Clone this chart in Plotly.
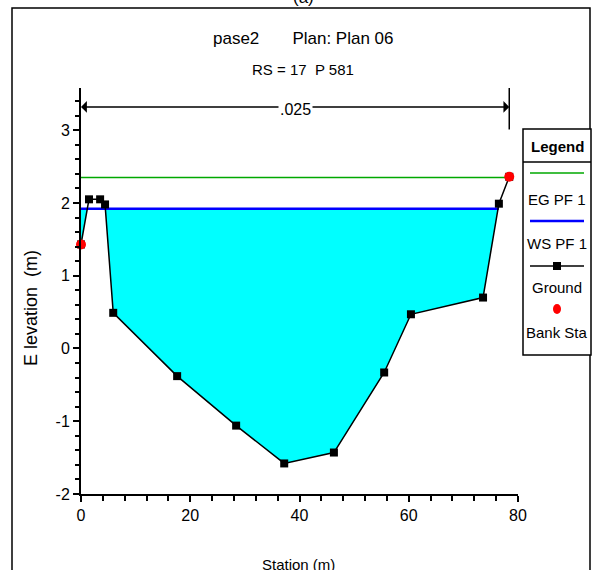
import plotly.graph_objects as go

# ---- data ----
ground_x = [0.0, 1.46, 3.5, 4.4, 5.9, 17.6, 28.4, 37.2, 46.3, 55.5, 60.4, 73.6, 76.5, 78.4]
ground_y = [1.43, 2.05, 2.05, 1.98, 0.49, -0.38, -1.06, -1.58, -1.43, -0.33, 0.47, 0.70, 1.99, 2.36]
bank_x = [0.0, 78.4]
bank_y = [1.43, 2.36]
ws_level = 1.92
eg_level = 2.35
ws_x = [0.0, 76.5]
eg_x = [0.0, 78.4]
n_value = ".025"
x_ticks = [0, 20, 40, 60, 80]
y_ticks = [-2, -1, 0, 1, 2, 3]

FONT = "Liberation Sans, Arial"
EG_COLOR = "#00A800"

# ---- water polygons (ground below WS) ----
def water_polys(xs, ys, lvl):
    polys, cur = [], []
    for i in range(len(xs)):
        x, y = xs[i], ys[i]
        if i > 0:
            x0, y0 = xs[i-1], ys[i-1]
            if (y0 < lvl) != (y < lvl):
                xi = x0 + (lvl - y0) * (x - x0) / (y - y0)
                cur.append((xi, lvl))
                if y >= lvl:
                    polys.append(cur); cur = []
        if y < lvl:
            if not cur:
                cur.append((x, lvl))
            cur.append((x, y))
    if cur:
        cur.append((xs[-1], lvl)); polys.append(cur)
    return polys

fig = go.Figure()
for poly in water_polys(ground_x, ground_y, ws_level):
    px = [p[0] for p in poly] + [poly[0][0]]
    py = [p[1] for p in poly] + [poly[0][1]]
    fig.add_trace(go.Scatter(x=px, y=py, fill="toself", fillcolor="#00FFFF",
                             mode="none", hoverinfo="skip", showlegend=False))

fig.add_trace(go.Scatter(x=eg_x, y=[eg_level, eg_level], mode="lines",
                         line=dict(color=EG_COLOR, width=1.3), showlegend=False))
fig.add_trace(go.Scatter(x=ws_x, y=[ws_level, ws_level], mode="lines",
                         line=dict(color="#0000FF", width=2.5), showlegend=False))
fig.add_trace(go.Scatter(x=ground_x, y=ground_y, mode="lines+markers",
                         line=dict(color="black", width=1.5),
                         marker=dict(symbol="square", size=8, color="black"),
                         showlegend=False, cliponaxis=False))
fig.add_trace(go.Scatter(x=bank_x, y=bank_y, mode="markers",
                         marker=dict(symbol="circle", size=10, color="#FF0000"),
                         showlegend=False, cliponaxis=False))

# plot area in pixels: x 81..518, y 88..494
L, R, T, B = 81, 518, 88, 494
def pxx(p): return (p - L) / (R - L)
def pxy(p): return (B - p) / (B - T)

shapes = []
anns = []
def text(x, y, t, size, angle=0, family=FONT, bg=None, xref="paper", yref="paper"):
    d = dict(x=x, y=y, xref=xref, yref=yref, text=t, showarrow=False,
             xanchor="center", yanchor="middle", textangle=angle,
             font=dict(family=family, size=size, color="black"))
    if bg:
        d["bgcolor"] = bg
    anns.append(d)

# outer frame
shapes.append(dict(type="rect", xref="paper", yref="paper", x0=pxx(12), x1=pxx(590),
                    y0=pxy(600), y1=pxy(8), line=dict(color="black", width=1.5)))
# dimension line
arrow_y = 3.32
shapes.append(dict(type="line", xref="x", yref="y", x0=78.4, x1=78.4, y0=3.01, y1=3.58,
                    line=dict(color="black", width=1.5)))
for end in [0.0, 78.4]:
    anns.append(dict(x=end, y=arrow_y, ax=39.2, ay=arrow_y, xref="x", yref="y",
                     axref="x", ayref="y", text="", showarrow=True, arrowhead=1,
                     arrowsize=1.3, arrowwidth=1.5, arrowcolor="black"))
text(39.2, 3.28, n_value, 16, bg="white", xref="x", yref="y")

# titles
text(pxx(303), pxy(38), "pase2&nbsp;&nbsp;&nbsp;&nbsp;&nbsp;&nbsp;&nbsp;Plan: Plan 06", 17)
text(pxx(303), pxy(70), "RS = 17&nbsp;&nbsp;P 581", 15)
text(pxx(303), pxy(-3), "(a)", 17)

# legend box
lx0, lx1, ly0, ly1 = 523, 591, 129, 355
shapes.append(dict(type="rect", xref="paper", yref="paper", x0=pxx(lx0), x1=pxx(lx1),
                    y0=pxy(ly1), y1=pxy(ly0), line=dict(color="black", width=1.5),
                    fillcolor="white"))
shapes.append(dict(type="line", xref="paper", yref="paper", x0=pxx(lx0), x1=pxx(lx1),
                    y0=pxy(162), y1=pxy(162), line=dict(color="black", width=1.5)))
shapes.append(dict(type="line", xref="paper", yref="paper", x0=pxx(530), x1=pxx(584),
                    y0=pxy(173), y1=pxy(173), line=dict(color=EG_COLOR, width=1.3)))
shapes.append(dict(type="line", xref="paper", yref="paper", x0=pxx(530), x1=pxx(584),
                    y0=pxy(221), y1=pxy(221), line=dict(color="#0000FF", width=2.5)))
shapes.append(dict(type="line", xref="paper", yref="paper", x0=pxx(530), x1=pxx(584),
                    y0=pxy(266), y1=pxy(266), line=dict(color="black", width=1.5)))
shapes.append(dict(type="rect", xref="paper", yref="paper", x0=pxx(553), x1=pxx(561),
                    y0=pxy(270), y1=pxy(262), line=dict(width=0), fillcolor="black"))
shapes.append(dict(type="circle", xref="paper", yref="paper", x0=pxx(553), x1=pxx(561),
                    y0=pxy(314), y1=pxy(304), line=dict(width=0), fillcolor="#FF0000"))
for txt, yy in [("<b>Legend</b>", 146), ("EG PF 1", 199), ("WS PF 1", 243),
                ("Ground", 287), ("Bank Sta", 332)]:
    text(pxx(557), pxy(yy), txt, 15)

# axis titles
text(pxx(31), pxy(308), "E levation&nbsp;&nbsp;(m)", 18, angle=-90)
text(pxx(298), pxy(564), "Station (m)", 15)

fig.update_layout(
    width=596, height=570,
    margin=dict(l=L, r=596 - R, t=T, b=570 - B),
    paper_bgcolor="white", plot_bgcolor="white",
    shapes=shapes, annotations=anns, showlegend=False,
    xaxis=dict(range=[0, 80], tickvals=x_ticks, ticktext=[str(v) for v in x_ticks],
               showgrid=False, zeroline=False, showline=True, linecolor="black", linewidth=2,
               ticks="outside", ticklen=6, tickwidth=1.5, tickcolor="black",
               minor=dict(dtick=4, ticks="outside", ticklen=5, tickwidth=1.5, tickcolor="black"),
               tickfont=dict(family=FONT, size=16, color="black")),
    yaxis=dict(range=[-2, 3.58], tickvals=y_ticks, ticktext=[str(v) for v in y_ticks],
               showgrid=False, zeroline=False, showline=True, linecolor="black", linewidth=2,
               ticks="outside", ticklen=6, tickwidth=1.5, tickcolor="black",
               minor=dict(dtick=0.2, ticks="outside", ticklen=4, tickwidth=1.5, tickcolor="black"),
               tickfont=dict(family=FONT, size=16, color="black")),
)

fig.write_html("out.html")
